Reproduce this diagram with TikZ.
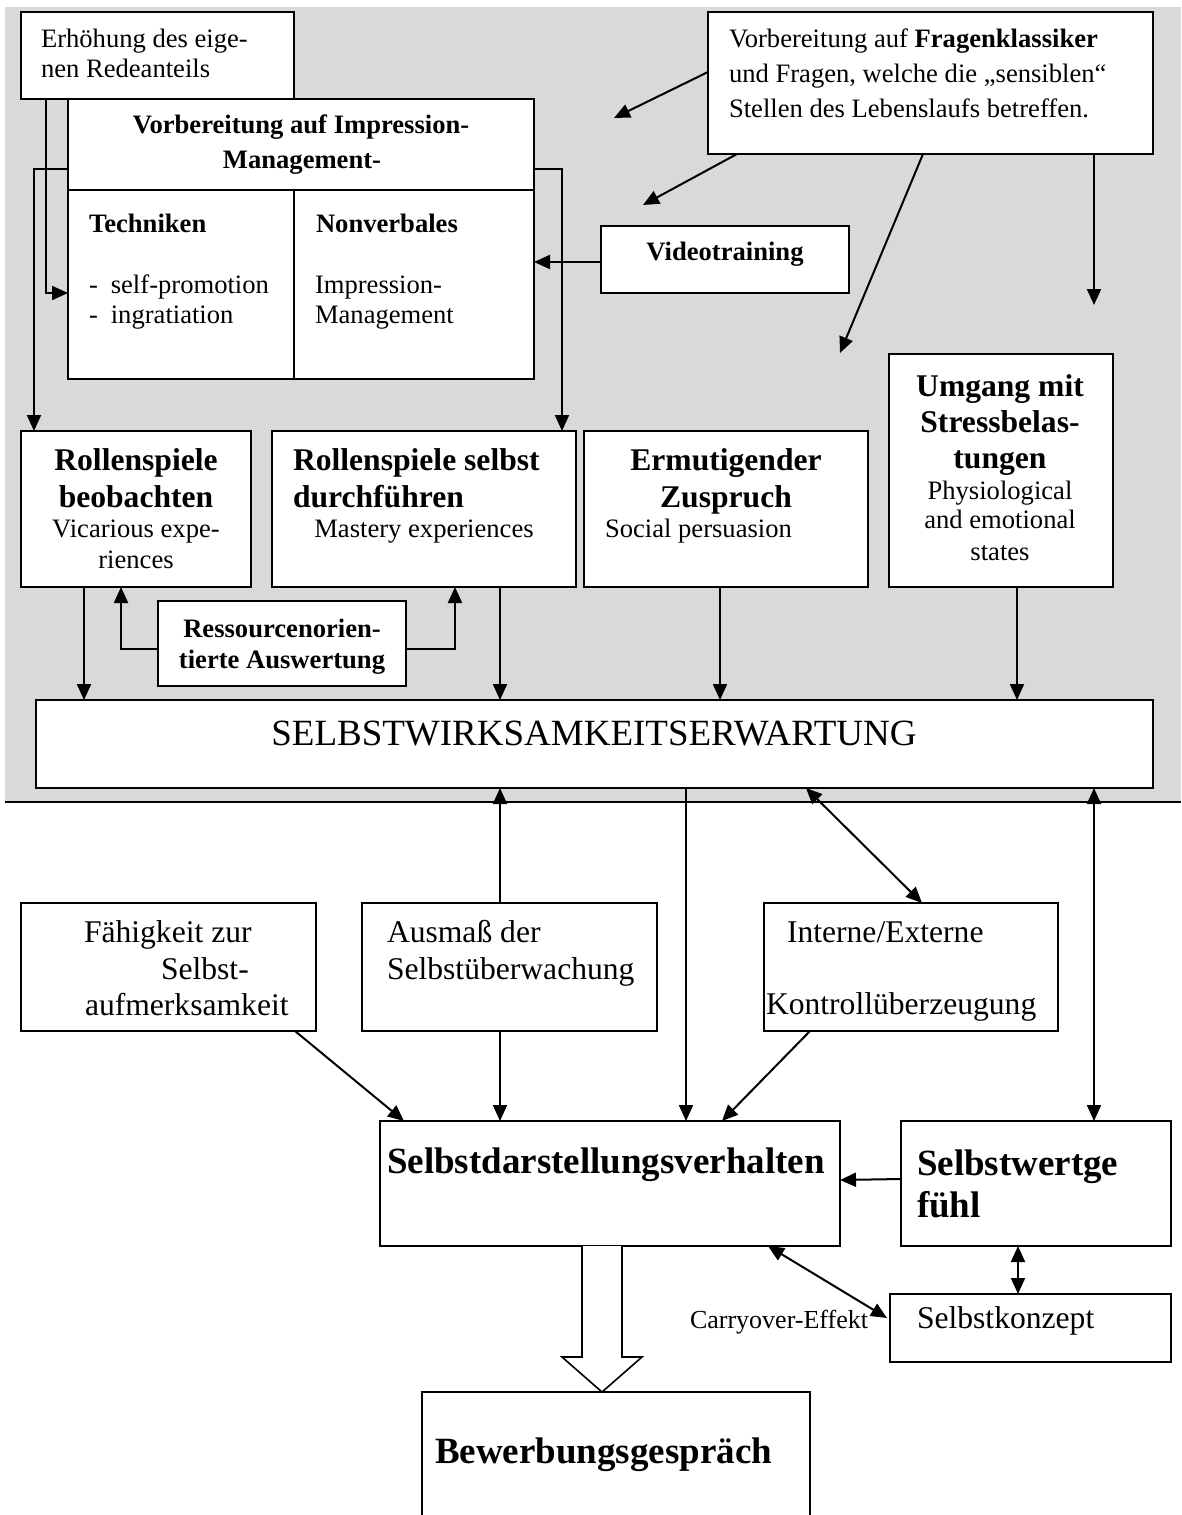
\documentclass[tikz,border=0pt]{standalone}
\usepackage{fontspec}
\setmainfont{Liberation Serif}
\usetikzlibrary{arrows.meta}
\newcommand\fsS{\fontsize{26.6pt}{30pt}\selectfont}
\newcommand\fsM{\fontsize{31.6pt}{36pt}\selectfont}
\newcommand\fsL{\fontsize{37pt}{42pt}\selectfont}
\definecolor{panelgray}{gray}{0.85}
\tikzset{
  box/.style={draw, line width=2pt, fill=white, anchor=north west, inner sep=0pt, outer sep=0pt},
  lbox/.style={box, line width=1.5pt},
  txt/.style={inner sep=0pt, outer sep=0pt, font=\fsS},
  txtm/.style={txt, font=\fsM},
  txtl/.style={txt, font=\fsL},
  arr/.style={line width=2pt, -{Triangle[length=16pt,width=14pt]}},
  darr/.style={line width=2pt, {Triangle[length=16pt,width=14pt]}-{Triangle[length=16pt,width=14pt]}},
}
\begin{document}
\begin{tikzpicture}[x=1pt, y=-1pt]
\useasboundingbox (0,0) rectangle (1181,1515);
\clip (0,0) rectangle (1181,1515);

% training area
\fill[panelgray] (5,7) rectangle (1181,802);

% ---------- boxes ----------
\node[box, minimum width=273pt, minimum height=87pt]  (erh)   at (21,12)   {};
\node[box, minimum width=466pt, minimum height=280pt] (vorb)  at (68,99)   {};
\node[box, minimum width=445pt, minimum height=142pt] (frag)  at (708,12)  {};
\node[box, minimum width=248pt, minimum height=67pt]  (video) at (601,226) {};
\node[box, minimum width=224pt, minimum height=233pt] (umg)   at (889,354) {};
\node[box, minimum width=230pt, minimum height=156pt] (rb)    at (21,431)  {};
\node[box, minimum width=304pt, minimum height=156pt] (rs)    at (272,431) {};
\node[box, minimum width=284pt, minimum height=156pt] (erm)   at (584,431) {};
\node[box, minimum width=248pt, minimum height=85pt]  (ress)  at (158,601) {};
\node[box, minimum width=1117pt, minimum height=88pt] (swe)   at (36,700)  {};
\node[lbox, minimum width=295pt, minimum height=128pt] (fah)  at (21,903)  {};
\node[lbox, minimum width=295pt, minimum height=128pt] (aus)  at (362,903) {};
\node[lbox, minimum width=294pt, minimum height=128pt] (int)  at (764,903) {};
\node[lbox, minimum width=460pt, minimum height=125pt] (sd)   at (380,1121) {};
\node[lbox, minimum width=270pt, minimum height=125pt] (sw)   at (901,1121) {};
\node[lbox, minimum width=281pt, minimum height=68pt]  (sk)   at (890,1294) {};
\node[lbox, minimum width=388pt, minimum height=200pt] (bew)  at (422,1392) {};

% inner divisions of the impression-management box
\draw[line width=2pt] ([yshift=-91pt]vorb.north west) -- ([yshift=-91pt]vorb.north east);
\draw[line width=2pt] ([xshift=226pt,yshift=-91pt]vorb.north west) -- ([xshift=226pt]vorb.south west);

% division line below the training area
\draw[line width=2.6pt] (5,802) -- (1181,802);

% ---------- texts ----------
\node[txt, anchor=base west] (erh1) at (41,47) {Erhöhung des eige-};
\node[txt, anchor=base west] (erh2) at (41,77) {nen Redeanteils};

\node[txt, anchor=base] (vorb1) at (301,133) {\bfseries Vorbereitung auf Impression-};
\node[txt, anchor=base] (vorb2) at (302,168) {\bfseries Management-};
\node[txt, anchor=base west] (tech) at (89,232) {\bfseries Techniken};
\node[txt, anchor=base west] (nonv) at (316,232) {\bfseries Nonverbales};
\node[txt, anchor=base west] (tech1) at (89,293) {-\hspace{13pt}self-promotion};
\node[txt, anchor=base west] (tech2) at (89,323) {-\hspace{13pt}ingratiation};
\node[txt, anchor=base west] (nonv1) at (315,293) {Impression-};
\node[txt, anchor=base west] (nonv2) at (315,323) {Management};

\node[txt, anchor=base west] (frag1) at (729,47) {Vorbereitung auf \textbf{Fragenklassiker}};
\node[txt, anchor=base west] (frag2) at (729,82) {und Fragen, welche die „sensiblen“};
\node[txt, anchor=base west] (frag3) at (729,117) {Stellen des Lebenslaufs betreffen.};

\node[txt, anchor=base] (video1) at (725,260) {\bfseries Videotraining};

\node[txtm, anchor=base] (umg1) at (1000,396) {\bfseries Umgang mit};
\node[txtm, anchor=base] (umg2) at (1000,432) {\bfseries Stressbelas-};
\node[txtm, anchor=base] (umg3) at (1000,468) {\bfseries tungen};
\node[txt, anchor=base] (umg4) at (1000,499) {Physiological};
\node[txt, anchor=base] (umg5) at (1000,528) {and emotional};
\node[txt, anchor=base] (umg6) at (1000,560) {states};

\node[txtm, anchor=base] (rb1) at (136,470) {\bfseries Rollenspiele};
\node[txtm, anchor=base] (rb2) at (136,507) {\bfseries beobachten};
\node[txt, anchor=base] (rb3) at (136,537) {Vicarious expe-};
\node[txt, anchor=base] (rb4) at (136,568) {riences};

\node[txtm, anchor=base west] (rs1) at (293,470) {\bfseries Rollenspiele selbst};
\node[txtm, anchor=base west] (rs2) at (293,507) {\bfseries durchführen};
\node[txt, anchor=base] (rs3) at (424,537) {Mastery experiences};

\node[txtm, anchor=base] (erm1) at (726,470) {\bfseries Ermutigender};
\node[txtm, anchor=base] (erm2) at (726,507) {\bfseries Zuspruch};
\node[txt, anchor=base west] (erm3) at (605,537) {Social persuasion};

\node[txt, anchor=base] (ress1) at (282,637) {\bfseries Ressourcenorien-};
\node[txt, anchor=base] (ress2) at (282,668) {\bfseries tierte Auswertung};

\node[txtl, anchor=base] (swe1) at (594,745) {SELBSTWIRKSAMKEITSERWARTUNG};

\node[txtm, anchor=base west] (fah1) at (84,942) {Fähigkeit zur};
\node[txtm, anchor=base west] (fah2) at (161,979) {Selbst-};
\node[txtm, anchor=base west] (fah3) at (85,1015) {aufmerksamkeit};

\node[txtm, anchor=base west] (aus1) at (387,942) {Ausmaß der};
\node[txtm, anchor=base west] (aus2) at (387,979) {Selbstüberwachung};

\node[txtm, anchor=base west] (int1) at (787,942) {Interne/Externe};
\node[txtm, anchor=base west] (int2) at (766,1014) {Kontrollüberzeugung};

\node[txtl, anchor=base west] (sd1) at (387,1173) {\bfseries Selbstdarstellungsverhalten};
\node[txtl, anchor=base west] (sw1) at (917,1175) {\bfseries Selbstwertge};
\node[txtl, anchor=base west] (sw2) at (917,1217) {\bfseries fühl};
\node[txtm, anchor=base west] (sk1) at (917,1328) {Selbstkonzept};
\node[txtl, anchor=base west] (bew1) at (435,1463) {\bfseries Bewerbungsgespräch};
\node[txt, anchor=base west, font=\fontsize{26pt}{30pt}\selectfont] (carry) at (690,1328) {Carryover-Effekt};

% ---------- connectors in the training area ----------
\draw[arr] ([xshift=25pt]erh.south west) |- ([yshift=-194pt]vorb.north west);
\draw[arr] ([yshift=-70pt]vorb.north west) -| ([xshift=13pt]rb.north west);
\draw[arr] ([yshift=-70pt]vorb.north east) -| ([xshift=-14pt]rs.north east);
\draw[arr] ([yshift=-36pt]video.north west) -- ([yshift=-163pt]vorb.north east);

\coordinate (fe1) at (614,118);
\coordinate (fe2) at (643,205);
\coordinate (fe3) at (840,353);
\coordinate (fe4) at (1094,305);
\draw[arr] ([yshift=-60pt]frag.north west) -- (fe1);
\draw[arr] ([xshift=29pt]frag.south west) -- (fe2);
\draw[arr] ([xshift=215pt]frag.south west) -- (fe3);
\draw[arr] ([xshift=386pt]frag.south west) -- (fe4);

\draw[arr] ([yshift=-48pt]ress.north west) -| ([xshift=100pt]rb.south west);
\draw[arr] ([yshift=-48pt]ress.north east) -| ([xshift=183pt]rs.south west);

\draw[arr] ([xshift=63pt]rb.south west) -- ++(0,113);
\draw[arr] ([xshift=228pt]rs.south west) -- ++(0,113);
\draw[arr] ([xshift=136pt]erm.south west) -- ++(0,113);
\draw[arr] ([xshift=128pt]umg.south west) -- ++(0,113);

% ---------- connectors below ----------
\draw[arr] ([xshift=138pt]aus.north west) -- ++(0,-115);
\draw[arr] ([xshift=650pt]swe.south west) -- ++(0,333);
\draw[darr] ([xshift=770pt]swe.south west) -- ([xshift=158pt]int.north west);
\draw[darr] ([xshift=1058pt]swe.south west) -- ++(0,333);

\draw[arr] ([xshift=-21pt]fah.south east) -- ([xshift=24pt]sd.north west);
\draw[arr] ([xshift=138pt]aus.south west) -- ++(0,90);
\draw[arr] ([xshift=46pt]int.south west) -- ([xshift=-118pt]sd.north east);
\draw[arr] ([yshift=-58pt]sw.north west) -- ([yshift=-59pt]sd.north east);
\draw[darr] ([xshift=117pt]sw.south west) -- ++(0,48);
\draw[darr] ([xshift=-72pt]sd.south east) -- ([xshift=-3pt,yshift=-24pt]sk.north west);

% hollow block arrow to the interview
\draw[line width=1.6pt, fill=white, line join=miter]
  ([xshift=202pt]sd.south west) -- ++(0,111) -- ++(-20,0) -- ++(40,35)
  -- ++(40,-35) -- ++(-20,0) -- ++(0,-111);

\end{tikzpicture}
\end{document}
